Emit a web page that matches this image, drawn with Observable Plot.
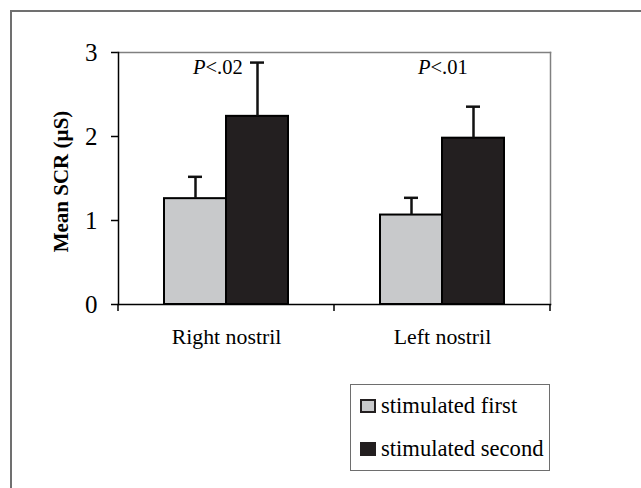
<!DOCTYPE html>
<html><head><meta charset="utf-8">
<script src="https://cdn.jsdelivr.net/npm/d3@7"></script>
<script src="https://cdn.jsdelivr.net/npm/@observablehq/plot@0.6"></script>
<style>
body{margin:0;background:#fff;}
#wrap{position:relative;width:641px;height:488px;overflow:hidden;font-family:"Liberation Serif","Times New Roman",serif;}
#outer{position:absolute;left:10px;top:10px;right:-5px;bottom:-5px;border-left:2px solid #707070;border-top:2px solid #707070;}
#chart{position:absolute;left:0;top:0;}
#legend{position:absolute;left:350px;top:384px;width:200px;height:87px;border:1.5px solid #6e6e6e;box-sizing:border-box;font-size:22.6px;color:#000;}
#legend .sw{position:absolute;left:9px;width:16px;height:14px;border:2px solid #231f20;box-sizing:border-box;}
#legend .lb{position:absolute;left:30px;line-height:22px;white-space:nowrap;}
</style></head>
<body>
<div id="wrap"><div id="outer"></div><div id="chart"></div><div id="legend"></div></div>
<script>
const nostrils = ["Right nostril", "Left nostril"];
const conditions = ["stimulated first", "stimulated second"];
const firstMeans = [1.26, 1.065];
const secondMeans = [2.24, 1.98];
const firstUpper = [1.52, 1.27];
const secondUpper = [2.88, 2.355];
const pValues = ["<.02", "<.01"];
const yTicks = [0, 1, 2, 3];
const yLabel = "Mean SCR (µS)";
const colors = ["#c8c9cb", "#231f20"];

const rows = nostrils.flatMap((n, i) => [
  {nostril: n, condition: conditions[0], mean: firstMeans[i], upper: firstUpper[i]},
  {nostril: n, condition: conditions[1], mean: secondMeans[i], upper: secondUpper[i]}
]);

const pShift = [-21, -12];
const pMarks = nostrils.flatMap((n, i) => {
  const d = [{nostril: n, p: pValues[i]}];
  return [
    Plot.text(d, {fx: "nostril", text: () => "P", fontStyle: "italic", textAnchor: "end", lineAnchor: "middle", frameAnchor: "top", dx: pShift[i], dy: 15, fontSize: 20.5}),
    Plot.text(d, {fx: "nostril", text: "p", textAnchor: "start", lineAnchor: "middle", frameAnchor: "top", dx: pShift[i], dy: 15, fontSize: 20.5})
  ];
});

const plot = Plot.plot({
  width: 641, height: 360,
  marginLeft: 118, marginRight: 91, marginTop: 52, marginBottom: 56,
  style: {fontFamily: '"Liberation Serif", "Times New Roman", serif', background: "transparent", color: "#000"},
  fx: {domain: nostrils, padding: 0, label: null},
  x: {domain: conditions, paddingInner: 0, paddingOuter: 0.728, axis: null},
  y: {domain: [0, 3], axis: null},
  color: {domain: conditions, range: colors},
  marks: [
    Plot.barY(rows, {fx: "nostril", x: "condition", y: "mean", fill: "condition", stroke: "#000", strokeWidth: 2}),
    Plot.ruleX(rows, {fx: "nostril", x: "condition", y1: "mean", y2: "upper", stroke: "#111", strokeWidth: 2.5}),
    Plot.tickY(rows, {fx: "nostril", x: "condition", y: "upper", stroke: "#111", strokeWidth: 2.5, inset: 24}),
    Plot.axisY({ticks: yTicks, tickSize: 7, tickPadding: 14, fontSize: 25, tickFormat: d => String(d), label: null, strokeWidth: 1.5}),
    Plot.axisFx({anchor: "bottom", tickSize: 0, tickPadding: 24, fontSize: 21.8, label: null}),
    Plot.frame({anchor: "top", facet: "super", stroke: "#808080", strokeWidth: 1.5}),
    Plot.frame({anchor: "right", facet: "super", stroke: "#808080", strokeWidth: 1.5}),
    Plot.frame({anchor: "left", facet: "super", stroke: "#000", strokeWidth: 1.5}),
    Plot.frame({anchor: "bottom", facet: "super", stroke: "#000", strokeWidth: 1.5}),
    Plot.text([yLabel], {facet: "super", frameAnchor: "left", textAnchor: "middle", lineAnchor: "middle", rotate: -90, dx: -57, dy: 3, fontWeight: "bold", fontSize: 21}),
    ...pMarks
  ]
});

// category boundary ticks on the bottom axis, from the facet scale
const fx = plot.scale("fx"), ys = plot.scale("y");
const edges = [...fx.domain.map(d => fx.apply(d)), fx.apply(fx.domain[fx.domain.length - 1]) + fx.bandwidth];
const y0 = ys.apply(0);
d3.select(plot).append("g").selectAll("line").data(edges).join("line")
  .attr("x1", d => d).attr("x2", d => d).attr("y1", y0).attr("y2", y0 + 7)
  .attr("stroke", "#000").attr("stroke-width", 1.5);

document.getElementById("chart").append(plot);

// legend
const legend = d3.select("#legend");
conditions.forEach((c, i) => {
  legend.append("div").attr("class", "sw").style("top", (14 + i * 43) + "px").style("background", colors[i]);
  legend.append("div").attr("class", "lb").style("top", (10 + i * 43) + "px").text(c);
});
</script>
</body></html>
